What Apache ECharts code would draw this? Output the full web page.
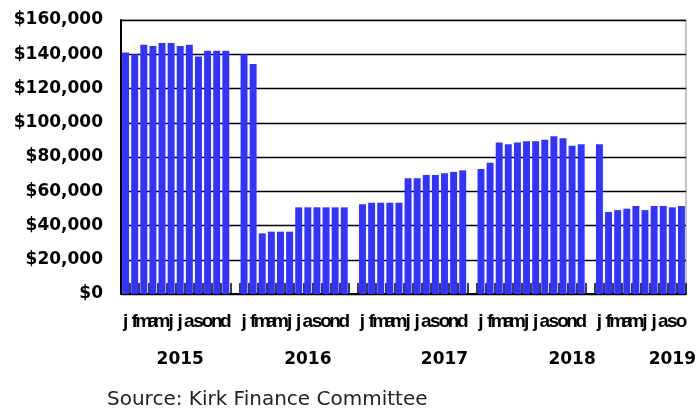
<!DOCTYPE html>
<html>
<head>
<meta charset="utf-8">
<script src="https://cdn.jsdelivr.net/npm/echarts@6/dist/echarts.min.js"></script>
<style>
html,body{margin:0;padding:0;background:#fff;}
#chart{width:696px;height:412px;}
</style>
</head>
<body>
<div id="chart"></div>
<script>
// ---- data ----
const months = ['j','f','m','a','m','j','j','a','s','o','n','d'];
const years = ['2015','2016','2017','2018','2019'];
const v2015 = [141000,140000,145600,144800,146500,146500,144800,145600,138700,142000,142000,142000];
const v2016 = [140000,134300,35400,36400,36400,36400,50600,50600,50600,50600,50600,50600];
const v2017 = [52400,53300,53300,53300,53300,67600,67600,69500,69500,70500,71300,72200];
const v2018 = [73000,76700,88400,87400,88400,89200,89200,90100,92100,90900,86600,87400];
const v2019 = [87400,47900,49000,49800,51400,49000,51400,51400,50600,51400];
const yTicks = [0,20000,40000,60000,80000,100000,120000,140000,160000];
const yearLabelIndex = [6,20,35,49,60];
const sourceText = 'Source: Kirk Finance Committee';

// ---- build ----
const yearValues = [v2015,v2016,v2017,v2018,v2019];
const categories = [];
const seriesData = [];
yearValues.forEach((vals, yi) => {
  vals.forEach((v, mi) => { categories.push(years[yi] + '-' + mi); seriesData.push(v); });
  if (yi < yearValues.length - 1) { categories.push('gap-' + years[yi]); seriesData.push('-'); }
});
const yearAt = {};
yearLabelIndex.forEach((idx, i) => { yearAt[idx] = years[i]; });

const chart = echarts.init(document.getElementById('chart'), null, {renderer:'canvas'});
chart.setOption({
  animation: false,
  backgroundColor: '#fff',
  grid: {left:121, right:10, top:20, bottom:118, containLabel:false, outerBoundsMode:'none',
         show:true, borderColor:'#8a8a8a', borderWidth:1, backgroundColor:'transparent'},
  xAxis: [{
    type:'category', data:categories, boundaryGap:true,
    axisLine:{show:true, lineStyle:{color:'#000', width:2}},
    axisTick:{show:true, inside:true, length:11, interval:0, lineStyle:{color:'#000', width:1.5}},
    axisLabel:{show:true, interval:0, margin:18, color:'#000',
      fontFamily:'Liberation Sans', fontWeight:'bold', fontSize:19,
      formatter:(val) => val.startsWith('gap') ? '' : months[parseInt(val.split('-')[1],10)]},
    splitLine:{show:false}
  },{
    type:'category', data:categories, position:'bottom', boundaryGap:true,
    axisLine:{show:false}, axisTick:{show:false}, splitLine:{show:false},
    axisLabel:{show:true, interval:0, margin:57, color:'#000',
      fontFamily:'DejaVu Sans', fontWeight:'bold', fontSize:17,
      formatter:(val, idx) => yearAt[idx] || ''}
  }],
  yAxis: {
    type:'value', min:yTicks[0], max:yTicks[yTicks.length-1], interval:yTicks[1]-yTicks[0],
    axisLine:{show:true, lineStyle:{color:'#000', width:2}},
    axisTick:{show:false},
    splitLine:{show:true, lineStyle:{color:'#000', width:1.3}},
    axisLabel:{margin:18, color:'#000', fontFamily:'DejaVu Sans', fontWeight:'bold', fontSize:17,
      formatter:(v) => '$' + v.toLocaleString('en-US')}
  },
  series: [{
    type:'bar', data:seriesData, xAxisIndex:0, barCategoryGap:'24%',
    itemStyle:{color:'#3333ff'}
  }],
  graphic: [{
    type:'text', left:107, top:390,
    style:{text:sourceText, fill:'#222', font:'20px "DejaVu Sans"'}
  }]
});
</script>
</body>
</html>
